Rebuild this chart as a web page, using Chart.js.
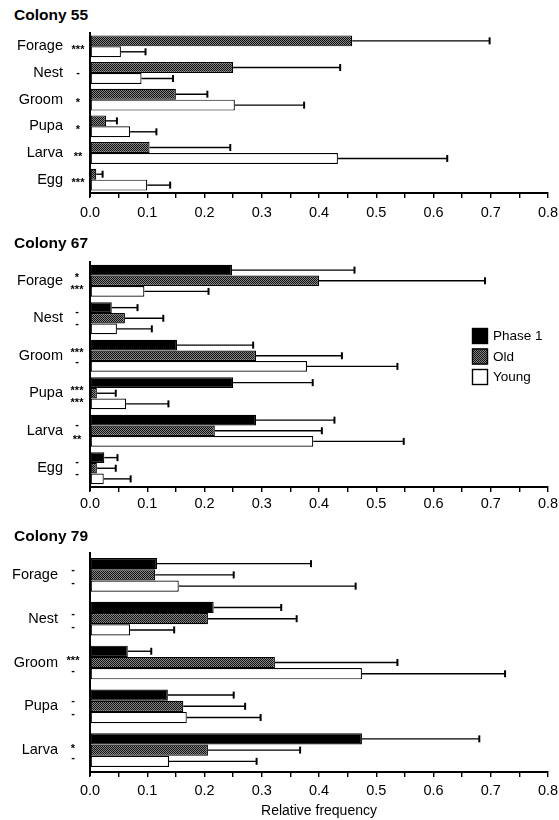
<!DOCTYPE html>
<html>
<head>
<meta charset="utf-8">
<script src="https://cdn.jsdelivr.net/npm/chart.js@4.4.1/dist/chart.umd.min.js"></script>
<style>
  body { margin: 0; background: #fff; }
  #page { position: relative; width: 559px; height: 820px; font-family: "Liberation Sans", Arial, sans-serif; }
  .title { position: absolute; left: 14px; font-weight: bold; font-size: 15.5px; color: #000; line-height: 18px; }
  canvas { position: absolute; left: 0; }
</style>
</head>
<body>
<div id="page">
  <canvas id="c55" width="559" height="204" style="top:28px"></canvas>
  <canvas id="c67" width="559" height="288" style="top:232px"></canvas>
  <canvas id="c79" width="559" height="300" style="top:520px"></canvas>
  <div class="title" style="top:6px">Colony 55</div>
  <div class="title" style="top:234px">Colony 67</div>
  <div class="title" style="top:527px">Colony 79</div>
</div>
<script>
// ---- data (mean, and right end of the error bar) ----
const tasks6 = ['Forage', 'Nest', 'Groom', 'Pupa', 'Larva', 'Egg'];
const tasks5 = ['Forage', 'Nest', 'Groom', 'Pupa', 'Larva'];
const xTicks = ['0.0', '0.1', '0.2', '0.3', '0.4', '0.5', '0.6', '0.7', '0.8'];

// Colony 55
const old55 = [0.458, 0.250, 0.150, 0.028, 0.104, 0.011];
const old55Hi = [0.698, 0.437, 0.205, 0.047, 0.245, 0.022];
const young55 = [0.054, 0.090, 0.253, 0.070, 0.433, 0.100];
const young55Hi = [0.097, 0.145, 0.374, 0.116, 0.624, 0.140];
const sig55 = ['***', '-', '*', '*', '**', '***'];

// Colony 67
const phase67 = [0.248, 0.038, 0.152, 0.250, 0.290, 0.025];
const phase67Hi = [0.462, 0.083, 0.285, 0.389, 0.427, 0.048];
const old67 = [0.400, 0.061, 0.290, 0.012, 0.218, 0.012];
const old67Hi = [0.690, 0.128, 0.440, 0.045, 0.405, 0.045];
const young67 = [0.095, 0.047, 0.379, 0.063, 0.390, 0.024];
const young67Hi = [0.207, 0.108, 0.537, 0.137, 0.548, 0.071];
const sig67Top = ['*', '-', '***', '***', '-', '-'];
const sig67Bot = ['***', '-', '-', '***', '**', '-'];

// Colony 79
const phase79 = [0.117, 0.216, 0.066, 0.136, 0.475];
const phase79Hi = [0.386, 0.334, 0.107, 0.251, 0.680];
const old79 = [0.114, 0.206, 0.323, 0.163, 0.206];
const old79Hi = [0.251, 0.361, 0.537, 0.271, 0.367];
const young79 = [0.155, 0.070, 0.475, 0.169, 0.138];
const young79Hi = [0.464, 0.147, 0.725, 0.298, 0.291];
const sig79Top = ['-', '-', '***', '-', '*'];
const sig79Bot = ['-', '-', '-', '-', '-'];

const FONT = '"Liberation Sans", Arial, sans-serif';
Chart.defaults.font.family = FONT;
Chart.defaults.color = '#000';

// stippled fill used for the "Old" bars
function makeStipple() {
    const c = document.createElement('canvas');
    c.width = 2;
    c.height = 2;
    const g = c.getContext('2d');
    g.fillStyle = '#858585';
    g.fillRect(0, 0, 2, 2);
    g.fillStyle = '#111';
    g.fillRect(0, 0, 1, 1);
    g.fillRect(1, 1, 1, 1);
    return g.createPattern(c, 'repeat');
}
const stipple = makeStipple();

const series = {
    phase: { label: 'Phase 1', fill: '#000' },
    old: { label: 'Old', fill: stipple },
    young: { label: 'Young', fill: '#fff' }
};

function bar(kind, values, hi, catPct) {
    return {
        label: series[kind].label,
        data: values,
        hi: hi,
        backgroundColor: series[kind].fill,
        borderColor: '#000',
        borderWidth: 1.2,
        borderSkipped: false,
        categoryPercentage: catPct,
        barPercentage: 1.0
    };
}

// error bars: line from the bar end to the upper value, with a small cap
const errorBars = {
    id: 'errorBars',
    afterDatasetsDraw(chart) {
        const ctx = chart.ctx;
        const xs = chart.scales.x;
        ctx.save();
        ctx.strokeStyle = '#000';
        ctx.lineWidth = 1.4;
        chart.data.datasets.forEach(function(ds, di) {
            chart.getDatasetMeta(di).data.forEach(function(el, i) {
                const xEnd = xs.getPixelForValue(ds.hi[i]);
                ctx.beginPath();
                ctx.moveTo(el.x, el.y);
                ctx.lineTo(xEnd, el.y);
                ctx.stroke();
                ctx.lineWidth = 2;
                ctx.beginPath();
                ctx.moveTo(xEnd, el.y - 3.5);
                ctx.lineTo(xEnd, el.y + 3.5);
                ctx.stroke();
                ctx.lineWidth = 1.4;
            });
        });
        ctx.restore();
    }
};

// y axis line runs a little past the x axis, as in the print
const axisStub = {
    id: 'axisStub',
    afterDraw(chart) {
        const ctx = chart.ctx;
        const a = chart.chartArea;
        ctx.save();
        ctx.strokeStyle = '#000';
        ctx.lineWidth = 2;
        ctx.beginPath();
        ctx.moveTo(a.left, a.bottom);
        ctx.lineTo(a.left, a.bottom + 4);
        ctx.stroke();
        ctx.restore();
    }
};

// significance marks between the task names and the axis
function sigPlugin(rows, x) {
    return {
        id: 'sig',
        afterDraw(chart) {
            const ctx = chart.ctx;
            const ys = chart.scales.y;
            ctx.save();
            ctx.fillStyle = '#000';
            ctx.font = 'bold 11px ' + FONT;
            ctx.textAlign = 'center';
            ctx.textBaseline = 'alphabetic';
            rows.forEach(function(row) {
                row.marks.forEach(function(m, i) {
                    const yc = ys.getPixelForValue(i) + row.dy;
                    const base = m === '-' ? yc + 3 : yc + 6.5;
                    ctx.fillText(m, x, base);
                });
            });
            ctx.restore();
        }
    };
}

// legend box drawn inside the middle panel
const boxLegend = {
    id: 'boxLegend',
    afterDraw(chart) {
        const ctx = chart.ctx;
        const a = chart.chartArea;
        const left = a.right - 76;
        const top = a.top + 66;
        ctx.save();
        ctx.font = '13.5px ' + FONT;
        ctx.textBaseline = 'middle';
        ctx.textAlign = 'left';
        chart.data.datasets.forEach(function(ds, i) {
            const y = top + i * 20.5;
            ctx.fillStyle = ds.backgroundColor;
            ctx.fillRect(left, y, 16, 16);
            ctx.strokeStyle = '#000';
            ctx.lineWidth = 1.4;
            ctx.strokeRect(left + 0.5, y + 0.5, 15, 15);
            ctx.fillStyle = '#000';
            ctx.fillText(ds.label, left + 21, y + 8.5);
        });
        ctx.restore();
    }
};

function panel(id, labels, datasets, o) {
    const extra = [errorBars, axisStub, sigPlugin(o.sig, o.sigX)];
    if (o.legend) extra.push(boxLegend);
    return new Chart(document.getElementById(id), {
        type: 'bar',
        data: { labels: labels, datasets: datasets },
        options: {
            indexAxis: 'y',
            responsive: false,
            animation: false,
            layout: { padding: { top: o.padTop, right: 11, bottom: 0, left: 0 } },
            plugins: {
                legend: { display: false },
                tooltip: { enabled: false }
            },
            scales: {
                x: {
                    min: 0,
                    max: 0.8,
                    ticks: {
                        stepSize: 0.05,
                        autoSkip: false,
                        maxRotation: 0,
                        padding: o.tickPad,
                        font: { size: 14.5 },
                        callback: function(v) {
                            const k = Math.round(v * 100);
                            return k % 10 === 0 ? xTicks[k / 10] : '';
                        }
                    },
                    grid: { display: true, drawOnChartArea: false, drawTicks: true, tickLength: 5, color: '#000', lineWidth: 1.4 },
                    border: { display: true, color: '#000', width: 2 },
                    title: o.xTitle ? { display: true, text: o.xTitle, font: { size: 14 }, padding: { top: 0, bottom: 0 } } : { display: false },
                    afterFit: function(s) {
                        s.height = o.xHeight;
                        s.paddingLeft = 0;
                        s.paddingRight = 0;
                    }
                },
                y: {
                    ticks: { padding: o.labelPad, font: { size: 14.5 } },
                    grid: { display: false, drawTicks: false },
                    border: { display: true, color: '#000', width: 2 },
                    afterFit: function(s) {
                        s.width = 90;
                        s.paddingTop = 0;
                        s.paddingBottom = 0;
                    }
                }
            }
        },
        plugins: extra
    });
}

panel('c55', tasks6, [
    bar('old', old55, old55Hi, 0.82),
    bar('young', young55, young55Hi, 0.82)
], { padTop: 5, xHeight: 39, tickPad: 6, labelPad: 27, sigX: 78, sig: [{ marks: sig55, dy: 0 }] });

panel('c67', tasks6, [
    bar('phase', phase67, phase67Hi, 0.85),
    bar('old', old67, old67Hi, 0.85),
    bar('young', young67, young67Hi, 0.85)
], { padTop: 30, xHeight: 33, tickPad: 3, labelPad: 27, sigX: 77, legend: true,
     sig: [{ marks: sig67Top, dy: -6 }, { marks: sig67Bot, dy: 6 }] });

panel('c79', tasks5, [
    bar('phase', phase79, phase79Hi, 0.77),
    bar('old', old79, old79Hi, 0.77),
    bar('young', young79, young79Hi, 0.77)
], { padTop: 33, xHeight: 48, tickPad: 5, labelPad: 32, sigX: 73, xTitle: 'Relative frequency',
     sig: [{ marks: sig79Top, dy: -5 }, { marks: sig79Bot, dy: 8 }] });
</script>
</body>
</html>
